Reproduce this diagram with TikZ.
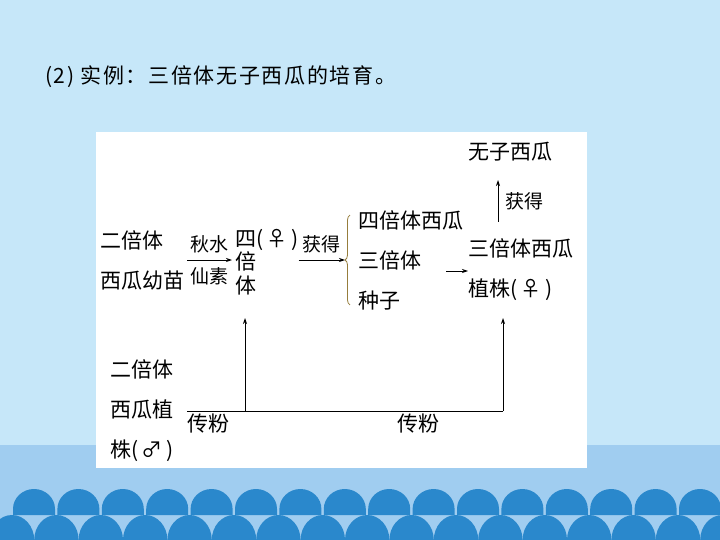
\documentclass[tikz,border=0pt]{standalone}
\usepackage{fontspec}
\newfontfamily\cjk{Noto Sans CJK SC}
\newfontfamily\cjkwide[LetterSpace=8]{Noto Sans CJK SC}
\usetikzlibrary{arrows.meta, calc, decorations.pathreplacing}
\definecolor{skyblue}{RGB}{198,231,249}
\definecolor{bandblue}{RGB}{160,205,240}
\definecolor{domeblue}{RGB}{42,136,204}
\definecolor{bracebrown}{RGB}{150,125,60}

\begin{document}
\begin{tikzpicture}[x=1pt, y=-1pt, >={Stealth[length=6pt, width=4pt]},
  every node/.style={inner sep=0pt, align=left, font=\cjk\fontsize{21}{40}\selectfont},
  lab/.style={font=\cjk\fontsize{19}{22}\selectfont},
  flow/.style={->, line width=0.8pt}]
  \useasboundingbox (0,0) rectangle (720,540);
  \fill[skyblue] (0,0) rectangle (720,445);
  \fill[bandblue] (0,445) rectangle (720,540);
  \foreach \i in {0,...,16}
    \fill[domeblue] (12+44.4*\i-22.2,540) arc[start angle=180, end angle=360, x radius=22.2, y radius=25] -- cycle;
  \foreach \i in {0,...,15}
    \fill[domeblue] (34+44.4*\i-21,515) -- ++(0,-6) arc[start angle=180, end angle=360, x radius=21, y radius=20] -- (34+44.4*\i+21,515) -- cycle;
  \fill[white] (96,132) rectangle (587,468);

  \node[anchor=west, font=\cjkwide\fontsize{21}{24}\selectfont] (title) at (45,77) {(2)\hspace{6pt}实例：三倍体无子西瓜的培育。};

  \node[anchor=west] (dip) at (100,260) {二倍体\\西瓜幼苗};
  \node[anchor=west, font=\cjk\fontsize{21}{23.5}\selectfont] (tetra) at (235,262) {四(\,♀\,)\\倍\\体};
  \node[anchor=west] (seeds) at (358,260) {四倍体西瓜\\三倍体\\种子};
  \node[anchor=west] (trip) at (468,270) {三倍体西瓜\\植株(\,♀\,)};
  \node[anchor=west] (seedless) at (468,152) {无子西瓜};
  \node[anchor=west] (male) at (110,411) {二倍体\\西瓜植\\株(\,♂\,)};
  \node[anchor=west] (pol1) at (187,424) {传粉};
  \node[anchor=west] (pol2) at (397,424) {传粉};
  \node[lab, anchor=west] (get2) at (505,201) {获得};

  \coordinate (bt) at ($(seeds.west)+(-13,0)$);
  \coordinate (c3) at (446,271);
  \coordinate (c4) at (498,222);
  \coordinate (c5) at (498,180);
  \coordinate (j0) at (187,411);
  \coordinate (j1) at (245,411);
  \coordinate (j2) at (503,411);
  \coordinate (t1) at (245,318);
  \coordinate (t2) at (503,318);

  \draw[flow, shorten <=3pt, shorten >=3pt] (dip.east) -- (dip.east -| tetra.west)
    node[lab, midway, above=7pt] {秋水} node[lab, midway, below=7pt] {仙素};
  \draw[flow] (tetra.east |- bt) -- (bt) node[lab, midway, above=7pt] {获得};
  \draw[bracebrown, line width=0.8pt, decorate, decoration={brace, amplitude=5pt}]
    ($(seeds.south west)+(-8,-5)$) -- ($(seeds.north west)+(-8,5)$);
  \draw[flow] (c3) -- (c3 -| trip.west);
  \draw[flow] (c4) -- (c5);
  \draw[line width=0.8pt] (j0) -- (j2);
  \draw[flow] (j1) -- (t1);
  \draw[flow] (j2) -- (t2);
\end{tikzpicture}
\end{document}
